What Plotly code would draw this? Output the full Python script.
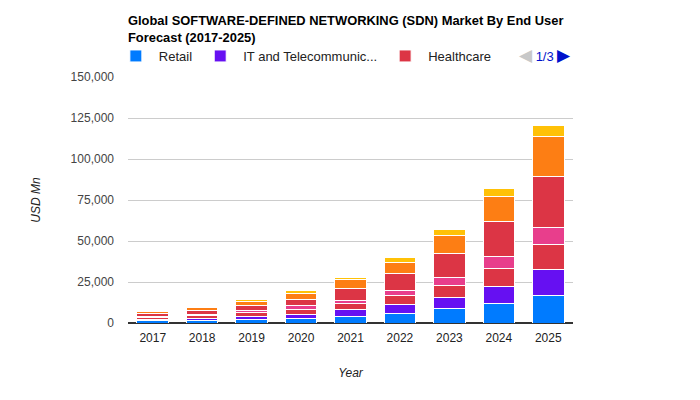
import plotly.graph_objects as go

years = ["2017", "2018", "2019", "2020", "2021", "2022", "2023", "2024", "2025"]

series_names = ["Retail", "IT and Telecommunication", "Healthcare", "BFSI",
                "Government", "Manufacturing", "Others"]
legend_labels = ["Retail", "IT and Telecommunic...", "Healthcare", "BFSI",
                 "Government", "Manufacturing", "Others"]

retail        = [1250, 1700, 2440, 3050, 4270, 6100, 8540, 11950, 17070]
it_telecom    = [950, 1300, 1830, 2440, 3660, 4880, 7070, 10610, 15850]
healthcare    = [1250, 1700, 2440, 2440, 3840, 5490, 7560, 10370, 15240]
bfsi          = [450, 600, 800, 2620, 2010, 3410, 4630, 7320, 10180]
government    = [1600, 2150, 3050, 4080, 7130, 10180, 14880, 21340, 31100]
manufacturing = [1300, 1850, 2620, 3660, 5490, 7130, 10730, 15850, 24020]
others        = [550, 750, 1040, 1400, 1220, 2620, 3480, 4450, 6890]

series_values = [retail, it_telecom, healthcare, bfsi, government, manufacturing, others]
colors = ["#007bff", "#6610f2", "#dc3545", "#e83e8c", "#dc3545", "#fd7e14", "#ffc107"]

FONT = "Arial, 'Liberation Sans', sans-serif"

fig = go.Figure()
for i, (name, vals) in enumerate(zip(series_names, series_values)):
    fig.add_trace(go.Bar(
        x=years, y=vals, name=legend_labels[i],
        marker=dict(color=colors[i], line=dict(color="white", width=1)),
        showlegend=i < 3,
        hovertemplate=name + "<br>%{x}: %{y:,}<extra></extra>",
    ))

fig.update_layout(
    barmode="stack",
    bargap=0.36,
    width=700, height=400,
    margin=dict(l=128, r=127, t=77, b=77),
    plot_bgcolor="white", paper_bgcolor="white",
    font=dict(family=FONT, size=12, color="#444"),
    title=dict(
        text="Global SOFTWARE-DEFINED NETWORKING (SDN) Market By End User<br>Forecast (2017-2025)",
        x=128/700, xref="container", xanchor="left",
        y=1 - 25/400, yref="container", yanchor="middle",
        font=dict(family=FONT, size=12.9, color="#000", weight="bold"),
    ),
    legend=dict(
        orientation="h", x=-0.034, xanchor="left", y=1 + 21/246, yanchor="middle",
        font=dict(family=FONT, size=13, color="#222"),
        itemwidth=36,
        traceorder="normal", itemclick=False, itemdoubleclick=False,
    ),
    yaxis=dict(
        range=[0, 150000], dtick=25000, tickformat=",",
        gridcolor="#cccccc", gridwidth=1,
        zeroline=True, zerolinecolor="#333333", zerolinewidth=1.5,
        tickfont=dict(size=12, color="#444"),
        ticklabelstandoff=13,
        title=dict(text="USD Mn", standoff=27,
                   font=dict(size=12, color="#222", style="italic")),
        fixedrange=True,
    ),
    xaxis=dict(
        showline=False,
        tickfont=dict(size=12, color="#222"),
        ticklabelstandoff=6,
        title=dict(text="Year", standoff=24,
                   font=dict(size=12, color="#222", style="italic")),
        fixedrange=True,
    ),
    annotations=[dict(
        text='<span style="color:#c8c8c8;font-size:17px">◀</span> <span style="color:#0011cc">1/3</span> <span style="color:#0011cc;font-size:17px">▶</span>',
        x=(545 - 128) / 445, xref="paper", xanchor="center",
        y=1 + 21/246, yref="paper", yanchor="middle",
        showarrow=False, font=dict(family=FONT, size=13),
    )],
)

fig.write_html("out.html", config={"displayModeBar": False},
               post_script="document.body.style.margin='0px';")
